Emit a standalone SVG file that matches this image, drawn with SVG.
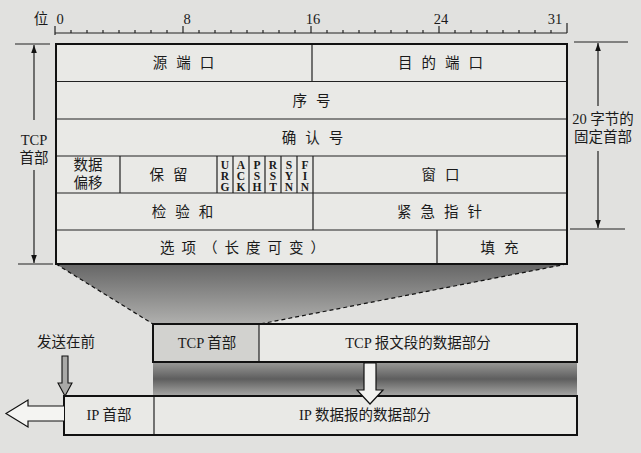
<svg xmlns="http://www.w3.org/2000/svg" width="641" height="453" viewBox="0 0 641 453">
<defs>
<style>
.t{font-family:"Liberation Serif","Noto Sans CJK SC",serif;font-size:14.5px;fill:#1a1a1a;text-anchor:middle}
.sp{letter-spacing:9px}
.f{font-family:"Liberation Serif",serif;font-size:11.5px;font-weight:bold;fill:#1a1a1a;text-anchor:middle}
.ob{fill:none;stroke:#111;stroke-width:2}
.ln{stroke:#222;stroke-width:1.2;fill:none}
.dash{stroke:#111;stroke-width:1.2;stroke-dasharray:4 3;fill:none}
</style>
<linearGradient id="gTrap" x1="0" y1="0" x2="0" y2="1">
<stop offset="0" stop-color="#666666"/>
<stop offset="1" stop-color="#b0b0ae"/>
</linearGradient>
<linearGradient id="gBand" x1="0" y1="0" x2="0" y2="1">
<stop offset="0" stop-color="#9a9a98"/>
<stop offset="0.5" stop-color="#5e5e5e"/>
<stop offset="1" stop-color="#a8a8a6"/>
</linearGradient>
<marker id="ah" viewBox="0 0 10 10" refX="10" refY="5" markerWidth="8" markerHeight="8" orient="auto-start-reverse" markerUnits="userSpaceOnUse">
<path d="M0,1.5 L10,5 L0,8.5 Z" fill="#111"/>
</marker>
</defs>
<rect x="0" y="0" width="641" height="453" fill="#e1e1df"/>

<g id="ruler">
<text class="t" x="41" y="24">位</text>
<text class="t" x="60" y="24">0</text>
<text class="t" x="187" y="24">8</text>
<text class="t" x="313" y="24">16</text>
<text class="t" x="441" y="24">24</text>
<text class="t" x="555" y="24">31</text>
<path class="ln" d="M55,33 H567 M55,26 V35 M567,23 V33 M183,26 V33 M311,26 V33 M439,26 V33
M71,30 V33 M87,30 V33 M103,30 V33 M119,30 V33 M135,30 V33 M151,30 V33 M167,30 V33
M199,30 V33 M215,30 V33 M231,30 V33 M247,30 V33 M263,30 V33 M279,30 V33 M295,30 V33
M327,30 V33 M343,30 V33 M359,30 V33 M375,30 V33 M391,30 V33 M407,30 V33 M423,30 V33
M455,30 V33 M471,30 V33 M487,30 V33 M503,30 V33 M519,30 V33 M535,30 V33 M551,30 V33"/>
</g>

<g id="projection">
<polygon points="56,264 567,264 260,324 153,324" fill="url(#gTrap)"/>
<rect x="153" y="362" width="424" height="34" fill="url(#gBand)"/>
<path class="dash" d="M56,264 L153,324 M567,264 L260,324"/>
</g>

<g id="tcp-header">
<rect x="56" y="44" width="511" height="220" fill="#e9e9e6"/>
<path class="ln" d="M56,81.5 H567 M56,119 H567 M56,156 H567 M56,193 H567 M56,230 H567
M312,44 V81.5 M120,156 V193 M217,156 V193 M233,156 V193 M249,156 V193 M265,156 V193 M281,156 V193 M297,156 V193 M313,156 V230 M437,230 V264"/>
<rect class="ob" x="56" y="44" width="511" height="220"/>
<text class="t sp" x="188" y="68">源端口</text>
<text class="t sp" x="445" y="68">目的端口</text>
<text class="t sp" x="316" y="106">序号</text>
<text class="t sp" x="317" y="143">确认号</text>
<text class="t" x="88" y="170">数据</text>
<text class="t" x="88" y="188">偏移</text>
<text class="t sp" x="173" y="180">保留</text>
<text class="f" x="225" y="169">U<tspan x="225" dy="11">R</tspan><tspan x="225" dy="11">G</tspan></text>
<text class="f" x="241" y="169">A<tspan x="241" dy="11">C</tspan><tspan x="241" dy="11">K</tspan></text>
<text class="f" x="257" y="169">P<tspan x="257" dy="11">S</tspan><tspan x="257" dy="11">H</tspan></text>
<text class="f" x="273" y="169">R<tspan x="273" dy="11">S</tspan><tspan x="273" dy="11">T</tspan></text>
<text class="f" x="289" y="169">S<tspan x="289" dy="11">Y</tspan><tspan x="289" dy="11">N</tspan></text>
<text class="f" x="305" y="169">F<tspan x="305" dy="11">I</tspan><tspan x="305" dy="11">N</tspan></text>
<text class="t sp" x="445" y="180">窗口</text>
<text class="t sp" x="187" y="217">检验和</text>
<text class="t sp" x="444" y="217">紧急指针</text>
<text class="t" x="246" y="253" style="letter-spacing:7px">选项（长度可变）</text>
<text class="t sp" x="504" y="253">填充</text>
</g>

<g id="dim-left">
<path class="ln" d="M15,44 H50 M18,264 H53"/>
<path class="ln" d="M34,120 V45" marker-end="url(#ah)"/>
<path class="ln" d="M34,170 V263" marker-end="url(#ah)"/>
<text class="t" x="34" y="145">TCP</text>
<text class="t" x="34" y="163">首部</text>
</g>

<g id="dim-right">
<path class="ln" d="M574,42 H628 M570,229 H625"/>
<path class="ln" d="M598,106 V43" marker-end="url(#ah)"/>
<path class="ln" d="M598,151 V228" marker-end="url(#ah)"/>
<text class="t" x="603" y="124">20 字节的</text>
<text class="t" x="603" y="142">固定首部</text>
</g>

<g id="tcp-segment">
<rect x="153" y="324" width="424" height="38" fill="#e9e9e6"/>
<rect x="153" y="324" width="106" height="38" fill="#d2d2cf"/>
<path class="ln" d="M259,324 V362"/>
<rect class="ob" x="153" y="324" width="424" height="38"/>
<text class="t" x="207" y="348">TCP 首部</text>
<text class="t" x="418" y="348">TCP 报文段的数据部分</text>
</g>

<g id="ip-datagram">
<rect x="64" y="396" width="513" height="39" fill="#e9e9e6"/>
<path class="ln" d="M154,396 V435"/>
<rect class="ob" x="64" y="396" width="513" height="39"/>
<text class="t" x="109" y="420">IP 首部</text>
<text class="t" x="365" y="420">IP 数据报的数据部分</text>
</g>

<g id="connectors">
<path d="M364,363 H376 V390 H383 L370,404 L357,390 H364 Z" fill="#f2f2f0" stroke="#111" stroke-width="1.2"/>
<path d="M62,356 H68 V383 H72 L65,396 L58,383 H62 Z" fill="#a9a9a7" stroke="#111" stroke-width="1.1"/>
<path d="M64,406 H28 V400 L6,413.5 L28,427 V421 H64" fill="#f4f4f2" stroke="#111" stroke-width="1.2"/>
<text class="t" x="66" y="347">发送在前</text>
</g>
</svg>
